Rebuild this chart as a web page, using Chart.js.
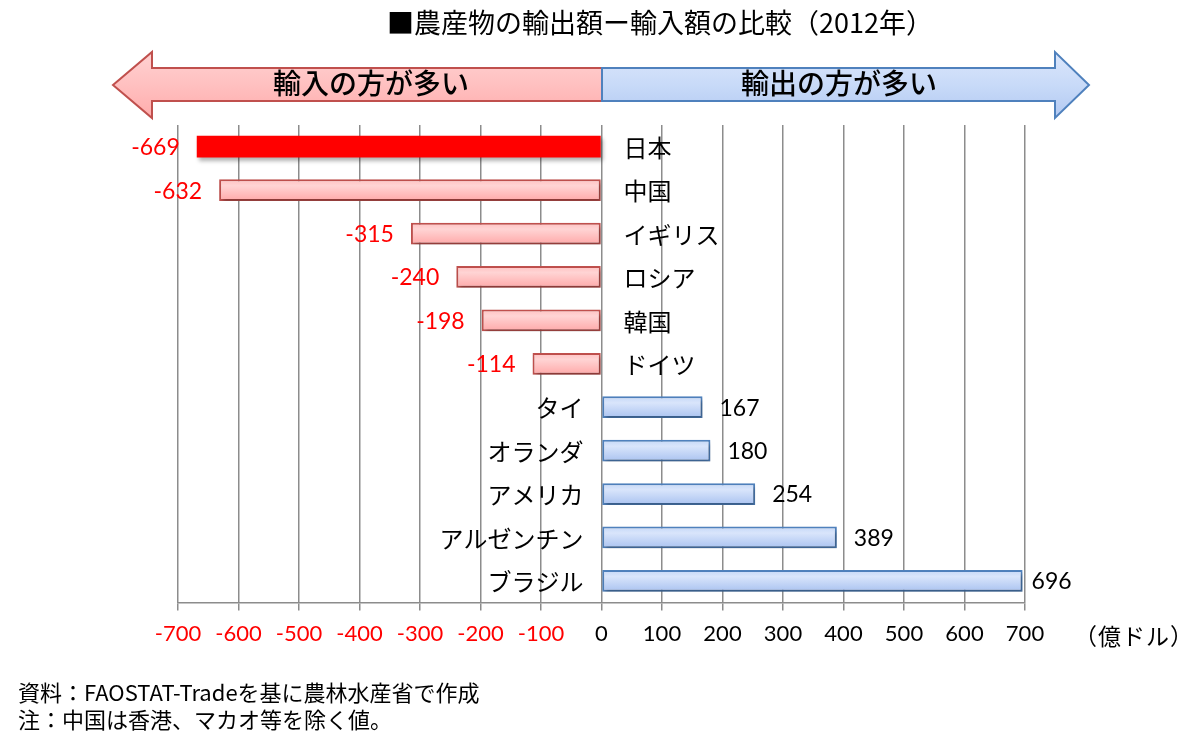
<!DOCTYPE html>
<html lang="ja">
<head>
<meta charset="utf-8">
<script src="https://cdn.jsdelivr.net/npm/chart.js@4.4.1/dist/chart.umd.min.js"></script>
<style>
  html, body { margin: 0; padding: 0; background: #fff; }
  #wrap { position: relative; width: 1200px; height: 749px; overflow: hidden; font-family: "Noto Sans CJK JP", "Noto Sans", sans-serif; }
  #chart { position: absolute; left: 0; top: 0; }
  .txt { position: absolute; white-space: nowrap; color: #000; line-height: 1; }
  #title { left: 0; width: 1320px; top: 8px; text-align: center; font-size: 27px; font-weight: 400; }
  #unit { left: 1074px; top: 624px; font-size: 23px; letter-spacing: 1px; }
  #note1 { left: 18px; top: 680px; font-size: 22px; }
  #note2 { left: 18px; top: 707px; font-size: 22px; }
  svg { position: absolute; left: 0; top: 0; }
</style>
</head>
<body>
<div id="wrap">
  <canvas id="chart" width="1200" height="749"></canvas>
  <svg width="1200" height="130" viewBox="0 0 1200 130">
    <defs>
      <linearGradient id="gPink" x1="0" y1="0" x2="0" y2="1">
        <stop offset="0" stop-color="#ffd2d2"/>
        <stop offset="0.5" stop-color="#ffc0c0"/>
        <stop offset="1" stop-color="#ffacac"/>
      </linearGradient>
      <linearGradient id="gBlue" x1="0" y1="0" x2="0" y2="1">
        <stop offset="0" stop-color="#dce7fc"/>
        <stop offset="0.5" stop-color="#c8daf8"/>
        <stop offset="1" stop-color="#b2c9f2"/>
      </linearGradient>
    </defs>
    <polygon points="602,68 152,68 152,52 113,85 152,118 152,101 602,101" fill="url(#gPink)" stroke="#c0504d" stroke-width="2"/>
    <polygon points="602,68 1055,68 1055,52 1089,85 1055,118 1055,101 602,101" fill="url(#gBlue)" stroke="#4f81bd" stroke-width="2"/>
    <text x="371" y="94" text-anchor="middle" font-family="Noto Sans CJK JP" font-size="28" font-weight="500" fill="#000">輸入の方が多い</text>
    <text x="839" y="94" text-anchor="middle" font-family="Noto Sans CJK JP" font-size="28" font-weight="500" fill="#000">輸出の方が多い</text>
  </svg>
  <div id="title" class="txt">■農産物の輸出額ー輸入額の比較（2012年）</div>
  <div id="unit" class="txt">（億ドル）</div>
  <div id="note1" class="txt">資料：FAOSTAT-Tradeを基に農林水産省で作成</div>
  <div id="note2" class="txt">注：中国は香港、マカオ等を除く値。</div>
</div>
<script>
// ---- data ----
const countries = ["日本", "中国", "イギリス", "ロシア", "韓国", "ドイツ", "タイ", "オランダ", "アメリカ", "アルゼンチン", "ブラジル"];
const balance = [-669, -632, -315, -240, -198, -114, 167, 180, 254, 389, 696];
const tickValues = [-700, -600, -500, -400, -300, -200, -100, 0, 100, 200, 300, 400, 500, 600, 700];

const NUM_FONT = "Lato, 'Open Sans', sans-serif";
const JP_FONT = "'Noto Sans CJK JP', sans-serif";

function barFill(ctx) {
  const i = ctx.dataIndex;
  const v = balance[i];
  if (i === 0) return "#ff0000";
  const chart = ctx.chart;
  const ys = chart.scales && chart.scales.y;
  const pos = v >= 0;
  if (!ys) return pos ? "#c6d9f8" : "#ffc0c0";
  const y = ys.getPixelForValue(i);
  const g = chart.ctx.createLinearGradient(0, y - 11, 0, y + 11);
  if (pos) {
    g.addColorStop(0, "#c4d7f7");
    g.addColorStop(0.3, "#d9e5fb");
    g.addColorStop(1, "#a9c2f0");
  } else {
    g.addColorStop(0, "#ffc0c0");
    g.addColorStop(0.3, "#ffd4d4");
    g.addColorStop(1, "#ffa8a8");
  }
  return g;
}

const labelPlugin = {
  id: "labels",
  beforeDatasetsDraw(chart) {
    const c = chart.ctx;
    c.save();
    c.shadowColor = "rgba(0,0,0,0.3)";
    c.shadowOffsetX = 2;
    c.shadowOffsetY = 3;
    c.shadowBlur = 4;
  },
  afterDatasetsDraw(chart) {
    const c = chart.ctx;
    c.restore();
    const meta = chart.getDatasetMeta(0);
    const xs = chart.scales.x;
    const x0 = xs.getPixelForValue(0);
    c.save();
    c.textBaseline = "middle";
    meta.data.forEach((bar, i) => {
      const v = balance[i];
      const y = bar.y;
      // category label
      c.fillStyle = "#000";
      c.font = "24px " + JP_FONT;
      if (v < 0) {
        c.textAlign = "left";
        c.fillText(countries[i], x0 + 22, y + 1);
      } else {
        c.textAlign = "right";
        c.fillText(countries[i], x0 - 18, y + 1);
      }
      // value label
      c.font = "23px " + NUM_FONT;
      const xe = xs.getPixelForValue(v);
      if (v < 0) {
        c.fillStyle = "#ff0000";
        c.textAlign = "right";
        c.fillText(String(v), xe - 17, y + 1);
      } else {
        c.fillStyle = "#000";
        c.textAlign = "left";
        const gap = v > 600 ? 9 : 17;
        c.fillText(String(v), xe + gap, y + 1);
      }
    });
    c.restore();
  }
};

new Chart(document.getElementById("chart"), {
  type: "bar",
  data: {
    labels: countries,
    datasets: [{
      data: balance,
      backgroundColor: barFill,
      borderColor: (ctx) => ctx.dataIndex === 0 ? "#ff0000" : (balance[ctx.dataIndex] >= 0 ? "#4f81bd" : "#c0504d"),
      borderWidth: (ctx) => ctx.dataIndex === 0 ? 0 : 2,
      borderSkipped: false,
      categoryPercentage: 1,
      barPercentage: 0.5
    }]
  },
  options: {
    indexAxis: "y",
    responsive: false,
    animation: false,
    devicePixelRatio: 1,
    layout: { padding: { left: 178, right: 175, top: 125, bottom: 92 } },
    plugins: { legend: { display: false }, tooltip: { enabled: false }, title: { display: false } },
    scales: {
      x: {
        min: -700,
        max: 700,
        afterBuildTicks: (axis) => { axis.ticks = tickValues.map(v => ({ value: v })); },
        grid: { color: "#8c8c8c", lineWidth: 1.5, tickLength: 8, drawTicks: true },
        border: { display: true, color: "#8c8c8c", width: 1.5 },
        ticks: {
          padding: 10,
          maxRotation: 0,
          autoSkip: false,
          font: { size: 22, family: NUM_FONT },
          color: (ctx) => (ctx.tick && ctx.tick.value < 0) ? "#ff0000" : "#000000",
          callback: (v) => String(v)
        }
      },
      y: {
        display: false,
        grid: { display: false }
      }
    }
  },
  plugins: [labelPlugin]
});
</script>
</body>
</html>
